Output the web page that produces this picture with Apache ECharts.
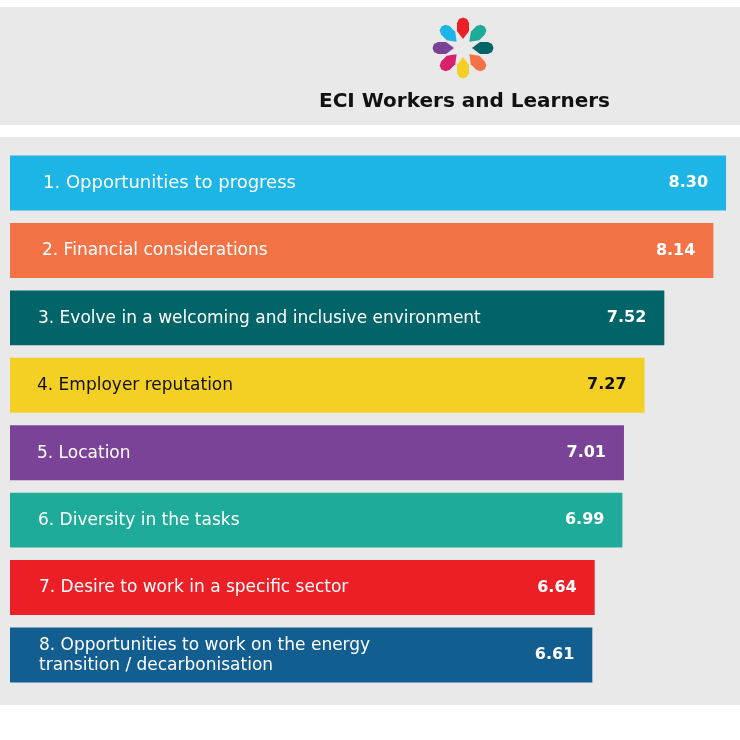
<!DOCTYPE html>
<html>
<head>
<meta charset="utf-8">
<script src="https://cdn.jsdelivr.net/npm/echarts@6/dist/echarts.min.js"></script>
<style>
html,body{margin:0;padding:0;background:#ffffff;}
#chart{width:740px;height:740px;}
</style>
</head>
<body>
<div id="chart"></div>
<script>
// ---- Data ----
const categories = [
  "1. Opportunities to progress",
  "2. Financial considerations",
  "3. Evolve in a welcoming and inclusive environment",
  "4. Employer reputation",
  "5. Location",
  "6. Diversity in the tasks",
  "7. Desire to work in a specific sector",
  "8. Opportunities to work on the energy\ntransition / decarbonisation"
];
const scores = [8.30, 8.14, 7.52, 7.27, 7.01, 6.99, 6.64, 6.61];
const barColors = ["#1cb5e6", "#f47346", "#006468", "#f5d024", "#7a4397", "#1fab9a", "#ec1f27", "#125e90"];
const textColors = ["#ffffff", "#ffffff", "#ffffff", "#111111", "#ffffff", "#ffffff", "#ffffff", "#ffffff"];
const chartTitle = "ECI Workers and Learners";
const AXIS_MIN = -0.75;
const AXIS_MAX = 8.35;

// label style tweaks per bar (styling only)
const labelInset = [33, 32, 28, 27, 27, 28, 29, 29];
const labelSize = [18, 17, 17, 17, 17, 17, 17, 17];

const FONT = '"DejaVu Sans", Verdana, sans-serif';

// logo petals (decoration)
const petalColors = ["#ec1f27", "#1fab9a", "#006468", "#f47346", "#f5d024", "#d8216d", "#7a4397", "#1cb5e6"];
const logoX = 463, logoY = 48;
const petalPts = [[0, -9], [-6, -17], [-6, -25], [-4, -29], [0, -30.5], [4, -29], [6, -25], [6, -17]];
const petals = petalColors.map((c, k) => ({
  type: 'polygon',
  x: logoX, y: logoY,
  rotation: -k * Math.PI / 4,
  shape: { points: petalPts },
  style: { fill: c },
  z: 10
}));

const chart = echarts.init(document.getElementById('chart'), null, { renderer: 'canvas' });

chart.setOption({
  backgroundColor: '#ffffff',
  animation: false,
  graphic: [
    { type: 'rect', shape: { x: 0, y: 7, width: 740, height: 118 }, style: { fill: '#e9e9e9' }, z: 0 },
    { type: 'rect', shape: { x: 0, y: 137, width: 740, height: 568 }, style: { fill: '#e9e9e9' }, z: 0 },
    ...petals,
    { type: 'text', x: 464.5, y: 101.5, style: { text: chartTitle, align: 'center', verticalAlign: 'middle', fill: '#111111', font: 'bold 20px ' + FONT }, z: 10 }
  ],
  grid: { left: 10, right: 10, top: 149.3, bottom: 51.3, containLabel: false },
  xAxis: {
    type: 'value', min: AXIS_MIN, max: AXIS_MAX, show: false
  },
  yAxis: {
    type: 'category', data: categories, inverse: true, show: false
  },
  series: [{
    type: 'custom',
    z: 5,
    encode: { x: 0, y: 1 },
    data: scores.map((v, i) => [v, i]),
    renderItem: function (params, api) {
      const v = api.value(0);
      const idx = api.value(1);
      const start = api.coord([AXIS_MIN, idx]);
      const end = api.coord([v, idx]);
      const band = api.size([0, 1])[1];
      const h = band * 0.815;
      return {
        type: 'group',
        children: [
          { type: 'rect', shape: { x: start[0], y: start[1] - h / 2, width: end[0] - start[0], height: h }, style: { fill: barColors[idx] } },
          { type: 'text', style: { text: categories[idx], x: start[0] + labelInset[idx], y: start[1] + 0.5, align: 'left', verticalAlign: 'middle', fill: textColors[idx], font: labelSize[idx] + 'px ' + FONT, lineHeight: 20.5 } },
          { type: 'text', style: { text: v.toFixed(2), x: end[0] - 18, y: start[1], align: 'right', verticalAlign: 'middle', fill: textColors[idx], font: 'bold 16px ' + FONT } }
        ]
      };
    }
  }]
});
</script>
</body>
</html>
